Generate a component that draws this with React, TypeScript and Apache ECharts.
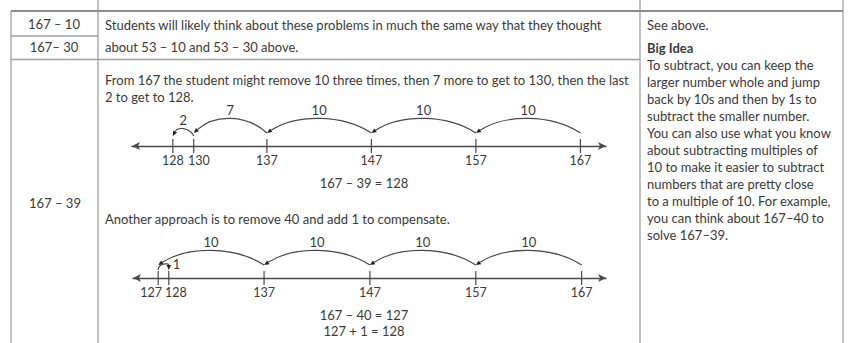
import React, { useEffect, useRef } from "react";
import * as echarts from "echarts";

// ---- data ----
const rowLabels = ["167 – 10", "167– 30", "167 – 39"];
const introLines = [
  "Students will likely think about these problems in much the same way that they thought",
  "about 53 – 10 and 53 – 30 above.",
];
const strategyLines = [
  "From 167 the student might remove 10 three times, then 7 more to get to 130, then the last",
  "2 to get to 128.",
];
const altLine = "Another approach is to remove 40 and add 1 to compensate.";
const equation1 = ["167 – 39 = 128"];
const equation2 = ["167 – 40 = 127", "127 + 1 = 128"];
const seeAbove = "See above.";
const bigIdeaTitle = "Big Idea";
const bigIdeaLines = [
  "To subtract, you can keep the",
  "larger number whole and jump",
  "back by 10s and then by 1s to",
  "subtract the smaller number.",
  "You can also use what you know",
  "about subtracting multiples of",
  "10 to make it easier to subtract",
  "numbers that are pretty close",
  "to a multiple of 10. For example,",
  "you can think about 167–40 to",
  "solve 167–39.",
];

const ticks1 = [128, 130, 137, 147, 157, 167];
const jumps1: [number, number, number][] = [
  [167, 157, 10],
  [157, 147, 10],
  [147, 137, 10],
  [137, 130, 7],
  [130, 128, 2],
];
const ticks2 = [127, 128, 137, 147, 157, 167];
const jumps2: [number, number, number][] = [
  [167, 157, 10],
  [157, 147, 10],
  [147, 137, 10],
  [137, 127, 10],
  [127, 128, 1],
];

// ---- style / layout ----
const FONT = 'Lato, "Open Sans", sans-serif';
const TXT = "#3a3a3a";
const LINE = "#4a4a4a";
const FS = 13;
const labelNudge1: Record<number, number> = { 130: 5 };
const labelNudge2: Record<number, number> = { 127: -7, 128: 7 };

function txt(text: string, x: number, y: number, extra: any = {}) {
  return {
    type: "text",
    silent: true,
    style: {
      text,
      x,
      y,
      fill: TXT,
      font: `${extra.bold ? "bold " : ""}${extra.size || FS}px ${FONT}`,
      align: extra.align || "left",
      verticalAlign: "middle",
      textAlign: extra.align || "left",
      textVerticalAlign: "middle",
    },
  };
}

function hline(x1: number, x2: number, y: number, stroke: string, w: number) {
  return { type: "line", silent: true, shape: { x1, y1: y, x2, y2: y }, style: { stroke, lineWidth: w } };
}
function vline(x: number, y1: number, y2: number, stroke: string, w: number) {
  return { type: "line", silent: true, shape: { x1: x, y1, x2: x, y2 }, style: { stroke, lineWidth: w } };
}

function renderJump(_params: any, api: any) {
  const from = api.value(0);
  const to = api.value(1);
  const lab = api.value(2);
  const a = api.coord([from, 0]);
  const b = api.coord([to, 0]);
  const span = Math.abs(to - from);
  const y0 = a[1];
  let e: number, k: number, f: number;
  if (span >= 5) { e = 13; k = 19; f = 0.28; }
  else if (span >= 2) { e = 10; k = 9; f = 0.22; }
  else { e = 8; k = 7; f = 0; }
  const x1 = a[0];
  const x2 = b[0];
  const ys = y0 - e;
  const cp1x = x1 + (x2 - x1) * f;
  const cp2x = x2 - (x2 - x1) * f;
  const cpy = ys - k;
  let dx = x2 - cp2x;
  let dy = ys - cpy;
  const len = Math.sqrt(dx * dx + dy * dy) || 1;
  dx /= len; dy /= len;
  const al = 5, aw = 2.2;
  const bx = x2 - dx * al, by = ys - dy * al;
  const pts = [
    [x2, ys],
    [bx - dy * aw, by + dx * aw],
    [bx + dy * aw, by - dx * aw],
  ];
  let lx: number, ly: number, align = "center";
  if (span >= 5) { lx = (x1 + x2) / 2; ly = y0 - 36; }
  else if (span >= 2) { lx = (x1 + x2) / 2; ly = y0 - 26; }
  else { lx = x2 + 4; ly = y0 - 14; align = "left"; }
  return {
    type: "group",
    children: [
      {
        type: "bezierCurve",
        shape: { x1, y1: ys, x2: bx, y2: by, cpx1: cp1x, cpy1: cpy, cpx2: cp2x, cpy2: cpy },
        style: { stroke: LINE, lineWidth: 1.2, fill: null },
      },
      { type: "polygon", shape: { points: pts }, style: { fill: "#222" } },
      {
        type: "text",
        style: {
          text: String(lab), x: lx, y: ly, fill: TXT, font: `${FS}px ${FONT}`,
          align, verticalAlign: "middle", textAlign: align, textVerticalAlign: "middle",
        },
      },
    ],
  };
}

function renderTick(_params: any, api: any) {
  const p = api.coord([api.value(0), 0]);
  return {
    type: "line",
    shape: { x1: p[0], y1: p[1] - 7, x2: p[0], y2: p[1] + 7 },
    style: { stroke: LINE, lineWidth: 1.2 },
  };
}

function makeAxis(gridIndex: number, min: number, max: number, ticks: number[], nudge: Record<number, number>) {
  const rich: any = {};
  ticks.forEach((t) => {
    const n = nudge[t] || 0;
    rich["t" + t] = {
      fontSize: 12.5,
      fontFamily: FONT,
      color: TXT,
      padding: n > 0 ? [0, 0, 0, 2 * n] : n < 0 ? [0, -2 * n, 0, 0] : 0,
    };
  });
  return {
    type: "value",
    gridIndex,
    min,
    max,
    position: "bottom",
    axisLine: {
      show: true,
      onZero: false,
      symbol: ["arrow", "arrow"],
      symbolSize: [6, 8],
      lineStyle: { color: LINE, width: 1.3 },
    },
    axisTick: { show: false },
    splitLine: { show: false },
    axisLabel: {
      show: true,
      customValues: ticks,
      margin: 8,
      formatter: (v: number) => `{t${v}|${v}}`,
      rich,
    },
  };
}

export default function App() {
  const ref = useRef<HTMLDivElement>(null);
  useEffect(() => {
    document.body.style.margin = "0";
    if (!ref.current) return;
    const chart = echarts.init(ref.current, null, { renderer: "svg" });

    const graphics: any[] = [
      // table lines
      vline(11, 11, 343, "#c2c2c2", 2),
      vline(98, 0, 343, "#c2c2c2", 2),
      vline(640, 0, 343, "#c2c2c2", 2),
      vline(843, 0, 343, "#c2c2c2", 2),
      hline(11, 843, 11, "#8c8c8c", 2),
      hline(11, 98, 36, "#a0a0a0", 1.5),
      hline(11, 640, 59.5, "#a0a0a0", 1.5),
      // first column
      txt(rowLabels[0], 54, 24, { align: "center" }),
      txt(rowLabels[1], 54, 47, { align: "center" }),
      txt(rowLabels[2], 55, 203, { align: "center" }),
      // middle column
      txt(introLines[0], 105, 25),
      txt(introLines[1], 105, 47),
      txt(strategyLines[0], 105, 80),
      txt(strategyLines[1], 105, 97),
      txt(equation1[0], 364, 183, { align: "center" }),
      txt(altLine, 105, 219),
      txt(equation2[0], 364, 315, { align: "center" }),
      txt(equation2[1], 364, 331, { align: "center" }),
      // right column
      txt(seeAbove, 647, 25),
      txt(bigIdeaTitle, 647, 48, { bold: true }),
      ...bigIdeaLines.map((l, i) => txt(l, 647, 65 + i * 17)),
    ];

    chart.setOption({
      animation: false,
      grid: [
        { left: 132, width: 474, top: 100, height: 46 },
        { left: 133, width: 473, top: 230, height: 48 },
      ],
      xAxis: [
        makeAxis(0, 124.09, 169.45, ticks1, labelNudge1),
        makeAxis(1, 124.62, 169.3, ticks2, labelNudge2),
      ],
      yAxis: [
        { type: "value", gridIndex: 0, min: 0, max: 1, show: false },
        { type: "value", gridIndex: 1, min: 0, max: 1, show: false },
      ],
      series: [
        { type: "custom", xAxisIndex: 0, yAxisIndex: 0, renderItem: renderTick, data: ticks1.map((v) => [v, 0]), silent: true },
        { type: "custom", xAxisIndex: 0, yAxisIndex: 0, renderItem: renderJump, encode: { x: [0, 1] }, data: jumps1, silent: true },
        { type: "custom", xAxisIndex: 1, yAxisIndex: 1, renderItem: renderTick, data: ticks2.map((v) => [v, 0]), silent: true },
        { type: "custom", xAxisIndex: 1, yAxisIndex: 1, renderItem: renderJump, encode: { x: [0, 1] }, data: jumps2, silent: true },
      ],
      graphic: { elements: graphics },
    });
    return () => chart.dispose();
  }, []);
  return <div ref={ref} style={{ width: 848, height: 343 }} />;
}
